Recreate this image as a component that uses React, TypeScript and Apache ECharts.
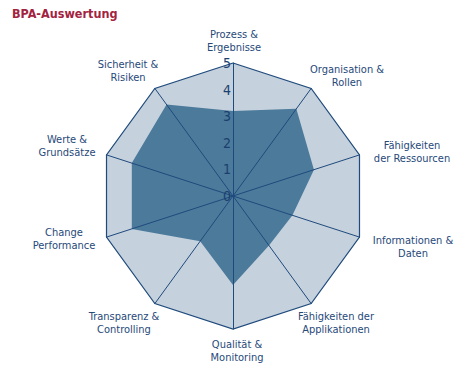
import React, { useEffect, useRef } from "react";
import * as echarts from "echarts";

// Indicators in clockwise order starting at the top
const categories = [
  "Prozess &\nErgebnisse",
  "Organisation &\nRollen",
  "Fähigkeiten\nder Ressourcen",
  "Informationen &\nDaten",
  "Fähigkeiten der\nApplikationen",
  "Qualität &\nMonitoring",
  "Transparenz &\nControlling",
  "Change\nPerformance",
  "Werte &\nGrundsätze",
  "Sicherheit &\nRisiken",
];
const values = [3.2, 4.05, 3.2, 2.35, 2.3, 3.35, 2.1, 4.0, 4.0, 4.25];
const tickLabels = ["0", "1", "2", "3", "4", "5"];
const maxValue = 5;
const title = "BPA-Auswertung";

// layout (label centres)
const labelPos: [number, number][] = [
  [234, 41],
  [347, 76],
  [412, 152],
  [413, 247],
  [336, 323],
  [237, 351],
  [124, 323],
  [64, 239],
  [67, 146],
  [128, 71],
];

const CX = 233;
const CY = 196;
const R = 133;
const FONT = "'DejaVu Sans Condensed', 'Liberation Sans Narrow', sans-serif";
const TEXT_COLOR = "#27497a";
const LINE_COLOR = "#1f4a7c";

export default function App() {
  const ref = useRef<HTMLDivElement>(null);
  useEffect(() => {
    document.body.style.margin = "0";
    if (!ref.current) return;
    const chart = echarts.init(ref.current, undefined, { renderer: "svg" });
    // ECharts radar runs counter-clockwise: reorder to keep clockwise layout
    const order = [0, ...Array.from({ length: categories.length - 1 }, (_, i) => categories.length - 1 - i)];
    const indicator = order.map((i) => ({ name: categories[i], max: maxValue, min: 0 }));
    const data = order.map((i) => values[i]);

    const graphics: any[] = [
      {
        type: "text",
        left: 12,
        top: 7,
        style: {
          text: title,
          font: `bold 12.5px ${FONT}`,
          fill: "#a3233f",
        },
      },
    ];
    categories.forEach((c, i) => {
      const lines = c.split("\n");
      lines.forEach((ln, j) => {
        graphics.push({
          type: "text",
          x: labelPos[i][0],
          y: labelPos[i][1] + (j - (lines.length - 1) / 2) * 13,
          style: {
            text: ln,
            font: `11px ${FONT}`,
            fill: TEXT_COLOR,
            align: "center",
            verticalAlign: "middle",
          },
          z: 10,
        });
      });
    });
    tickLabels.forEach((t, i) => {
      graphics.push({
        type: "text",
        x: CX - 2,
        y: CY - (i * R) / (tickLabels.length - 1),
        style: {
          text: t,
          font: `14px ${FONT}`,
          fill: "#1c3f6e",
          align: "right",
          verticalAlign: "middle",
        },
        z: 10,
      });
    });

    const common = {
      center: [CX, CY],
      radius: R,
      startAngle: 90,
      splitNumber: 1,
      shape: "polygon",
      indicator,
      axisName: { show: false },
      axisLabel: { show: false },
      axisTick: { show: false },
    };

    chart.setOption({
      animation: false,
      radar: [
        {
          ...common,
          z: 0,
          axisLine: { show: false },
          splitLine: { show: false },
          splitArea: { areaStyle: { color: ["#c5d1dd"] } },
        },
        {
          ...common,
          z: 5,
          axisLine: { lineStyle: { color: LINE_COLOR, width: 1 } },
          splitLine: { lineStyle: { color: LINE_COLOR, width: 1.2 } },
          splitArea: { show: false },
        },
      ],
      series: [
        {
          type: "radar",
          radarIndex: 0,
          symbol: "none",
          z: 1,
          lineStyle: { width: 0 },
          areaStyle: { color: "#4b7a9b", opacity: 1 },
          data: [{ value: data }],
        },
      ],
      graphic: graphics,
    });
    return () => chart.dispose();
  }, []);
  return <div ref={ref} style={{ width: 465, height: 373 }} />;
}
